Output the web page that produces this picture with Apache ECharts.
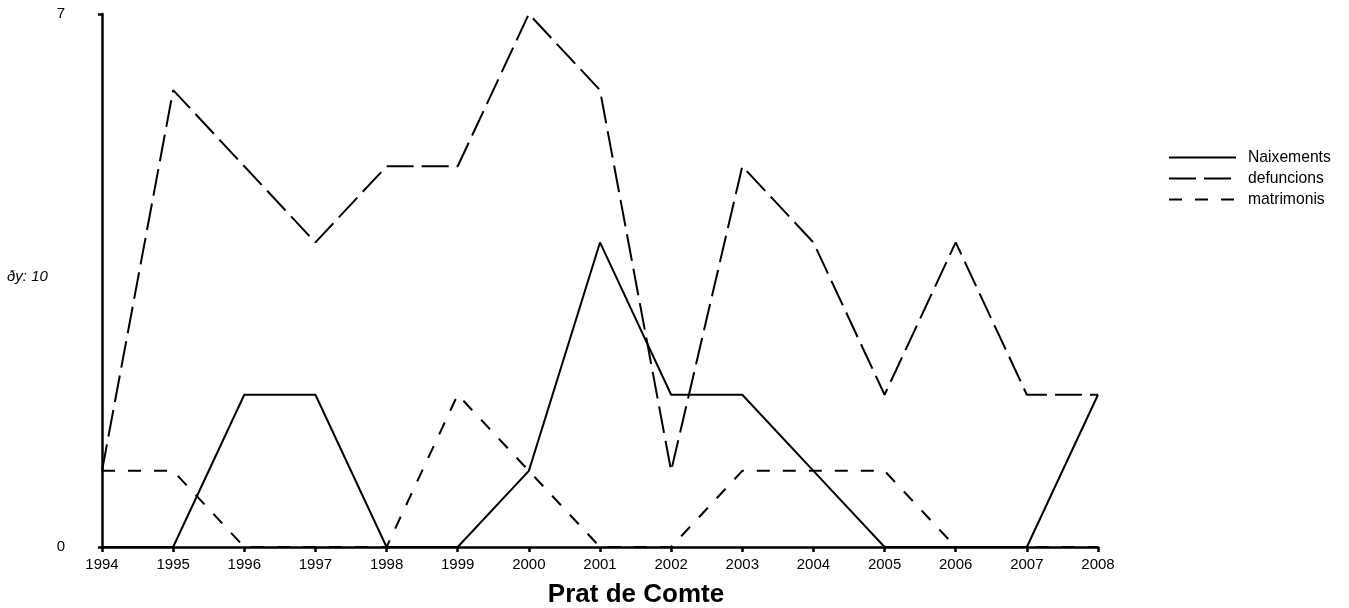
<!DOCTYPE html>
<html><head><meta charset="utf-8">
<script src="https://cdn.jsdelivr.net/npm/echarts@6/dist/echarts.min.js"></script>
<style>html,body{margin:0;padding:0;background:#fff}#c{width:1349px;height:608px}</style>
</head><body><div id="c"></div>
<script>
const years = ['1994','1995','1996','1997','1998','1999','2000','2001','2002','2003','2004','2005','2006','2007','2008'];
const naixements = [0,0,2,2,0,0,1,4,2,2,1,0,0,0,2];
const defuncions = [1,6,5,4,5,5,7,6,1,5,4,2,4,2,2];
const matrimonis = [1,1,0,0,0,2,1,0,0,1,1,1,0,0,0];
const chart = echarts.init(document.getElementById('c'));
const font = 'Liberation Sans, Arial, sans-serif';
function s(name, data, type) {
  return {name, type:'line', data, symbol:'none', animation:false,
    lineStyle:{color:'#000', width:2, type}, itemStyle:{color:'#000'}};
}
chart.setOption({
  backgroundColor:'#fff',
  animation:false,
  textStyle:{fontFamily:font},
  grid:{left:102, right:251, top:14, bottom:61, containLabel:false},
  title:{text:'Prat de Comte', left:631, textAlign:'center', top:577,
    textStyle:{fontFamily:font, fontWeight:'bold', fontSize:26, color:'#000'}},
  legend:{left:1163, top:144.5, orient:'vertical', itemWidth:67, itemHeight:14, itemGap:5,
    itemStyle:{opacity:0, borderWidth:0},
    textStyle:{fontFamily:font, fontSize:15.7, color:'#000', padding:[0,0,0,7]},
    data:['Naixements','defuncions','matrimonis']},
  xAxis:{type:'category', data:years, boundaryGap:false,
    axisLine:{lineStyle:{color:'#000', width:2.5}},
    axisTick:{show:true, length:5, lineStyle:{color:'#000', width:2.5}, alignWithLabel:true},
    axisLabel:{color:'#000', fontSize:15, fontFamily:font, margin:10},
    splitLine:{show:false}},
  yAxis:{type:'value', min:0, max:7, interval:7,
    axisLine:{show:true, lineStyle:{color:'#000', width:2.5}},
    axisTick:{show:true, length:4, lineStyle:{color:'#000', width:2.5}},
    axisLabel:{color:'#000', fontSize:15, fontFamily:font, margin:37, padding:[4,0,0,0]},
    splitLine:{show:false}},
  graphic:[{type:'text', left:7, top:269,
    style:{text:'ðy: 10', font:'italic 15px '+font, fill:'#000'}}],
  series:[
    s('Naixements', naixements, 'solid'),
    s('defuncions', defuncions, [27,8]),
    s('matrimonis', matrimonis, [13,13])
  ]
});
</script></body></html>
